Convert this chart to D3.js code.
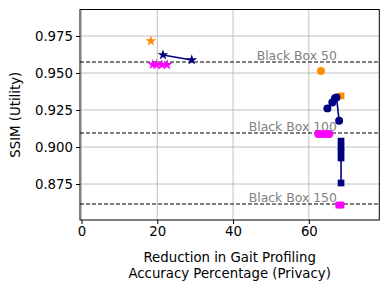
<!DOCTYPE html>
<html>
<head>
<meta charset="utf-8">
<script src="https://cdn.jsdelivr.net/npm/d3@7"></script>
<style>
  body { margin: 0; background: #fff; }
  svg { font-family: "DejaVu Sans", sans-serif; }
</style>
</head>
<body>
<svg width="388" height="289"></svg>
<script>
// series: privacy reduction (x) vs SSIM (y)
var orangeStar   = [[18.3, 0.9716]];
var orangeCircle = [[63.2, 0.9514]];
var orangeSquare = [[68.5, 0.9345]];
var navyStar     = [[21.5, 0.9622], [29.1, 0.9588]];
var navyCircle   = [[64.9, 0.9261], [66.2, 0.9300], [66.9, 0.9329], [67.3, 0.9335], [68.0, 0.9178]];
var navySquare   = [[68.5, 0.9040], [68.5, 0.9000], [68.5, 0.8966], [68.5, 0.8926], [68.5, 0.8757]];
var magStar      = [[18.8, 0.9557], [19.8, 0.9557], [21.2, 0.9555], [22.6, 0.9555]];
var magCircle    = [[62.5, 0.9088], [63.5, 0.9088], [64.5, 0.9088], [65.4, 0.9088]];
var magSquare    = [[67.9, 0.8608], [68.5, 0.8608]];

var blackBoxes = [
    {label: "Black Box 50", y: 0.9574},
    {label: "Black Box 100", y: 0.9095},
    {label: "Black Box 150", y: 0.8615}
];
var xTicks = [0, 20, 40, 60];
var yTicks = [0.875, 0.900, 0.925, 0.950, 0.975];

var svg = d3.select("svg");
var L = 80, R = 379.3, T = 9.5, B = 220;

var scX = d3.scaleLinear().domain([-0.4, 78.6]).range([L, R]);
var scY = d3.scaleLinear().domain([0.8507, 0.9929]).range([B, T]);

// grid
var grid = svg.append("g");
grid.selectAll("line.gx").data(xTicks).enter().append("line")
    .attr("x1", d=>scX(d)).attr("x2", d=>scX(d))
    .attr("y1", T).attr("y2", B)
    .attr("stroke", "#b0b0b0").attr("stroke-width", 0.8);
grid.selectAll("line.gy").data(yTicks).enter().append("line")
    .attr("x1", L).attr("x2", R)
    .attr("y1", d=>scY(d)).attr("y2", d=>scY(d))
    .attr("stroke", "#b0b0b0").attr("stroke-width", 0.8);

// black box reference lines + labels
svg.selectAll("line.bb").data(blackBoxes).enter().append("line")
    .attr("x1", L).attr("x2", R)
    .attr("y1", d=>scY(d.y)).attr("y2", d=>scY(d.y))
    .attr("stroke", "#000").attr("stroke-width", 1.1)
    .attr("stroke-dasharray", "4,2");
svg.selectAll("text.bb").data(blackBoxes).enter().append("text")
    .attr("x", scX(67.4)).attr("y", d=>scY(d.y) - 2)
    .attr("text-anchor", "end")
    .attr("font-size", "12.4px").attr("fill", "#808080")
    .text(d=>d.label);

// draws one series: line + markers
var drawSeries = function(data, color, symbol, size) {
    var g = svg.append("g");
    if (data.length > 1) {
        var ln = d3.line().x(d=>scX(d[0])).y(d=>scY(d[1]));
        g.append("path").attr("d", ln(data))
            .attr("fill", "none").attr("stroke", color).attr("stroke-width", 1.6);
    }
    g.selectAll("path.m").data(data).enter().append("path")
        .attr("d", d3.symbol().type(symbol).size(size))
        .attr("transform", d=>"translate(" + scX(d[0]) + "," + scY(d[1]) + ")")
        .attr("fill", color);
};

drawSeries(orangeStar, "#ff8c00", d3.symbolStar, 36);
drawSeries(orangeCircle, "#ff8c00", d3.symbolCircle, 50);
drawSeries(orangeSquare, "#ff8c00", d3.symbolSquare, 45);
drawSeries(navyStar, "#000080", d3.symbolStar, 36);
drawSeries(navyCircle, "#000080", d3.symbolCircle, 50);
drawSeries(navySquare, "#000080", d3.symbolSquare, 45);
drawSeries(magStar, "#ff00ff", d3.symbolStar, 36);
drawSeries(magCircle, "#ff00ff", d3.symbolCircle, 50);
drawSeries(magSquare, "#ff00ff", d3.symbolSquare, 45);

// frame
svg.append("rect").attr("x", L).attr("y", T)
    .attr("width", R - L).attr("height", B - T)
    .attr("fill", "none").attr("stroke", "#000").attr("stroke-width", 1);

// axes
var ax = svg.append("g").attr("transform", "translate(0," + B + ")")
    .call(d3.axisBottom(scX).tickValues(xTicks).tickSize(4).tickPadding(3));
var ay = svg.append("g").attr("transform", "translate(" + L + ",0)")
    .call(d3.axisLeft(scY).tickValues(yTicks).tickFormat(d3.format(".3f")).tickSize(4).tickPadding(3));
[ax, ay].forEach(function(a) {
    a.select(".domain").remove();
    a.selectAll("text").attr("font-size", "13.3px").attr("fill", "#000")
        .attr("font-family", "DejaVu Sans, sans-serif");
    a.selectAll("line").attr("stroke", "#000");
});

// axis titles
svg.append("text").attr("x", (L + R) / 2).attr("y", 262)
    .attr("text-anchor", "middle").attr("font-size", "13.3px")
    .text("Reduction in Gait Profiling");
svg.append("text").attr("x", (L + R) / 2).attr("y", 278)
    .attr("text-anchor", "middle").attr("font-size", "13.3px")
    .text("Accuracy Percentage (Privacy)");
svg.append("text")
    .attr("transform", "translate(20," + ((T + B) / 2) + ") rotate(-90)")
    .attr("text-anchor", "middle").attr("font-size", "13.3px")
    .text("SSIM (Utility)");
</script>
</body>
</html>
